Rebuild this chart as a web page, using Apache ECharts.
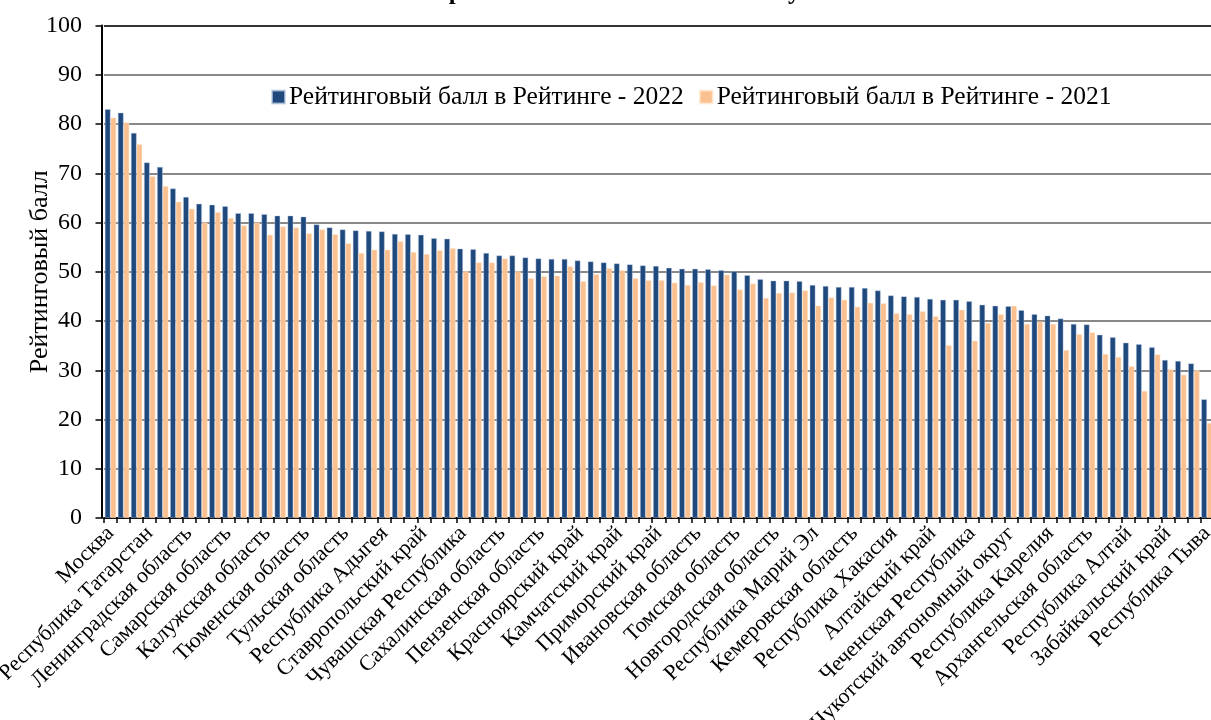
<!DOCTYPE html>
<html>
<head>
<meta charset="utf-8">
<script src="https://cdn.jsdelivr.net/npm/echarts@6/dist/echarts.min.js"></script>
<style>
html,body{margin:0;padding:0;background:#fff;}
#chart{width:1211px;height:720px;}
</style>
</head>
<body>
<div id="chart"></div>
<script>
const categories = [
"Москва","Санкт-Петербург","Московская область","Республика Татарстан","Нижегородская область",
"Белгородская область","Ленинградская область","Новосибирская область","Свердловская область","Самарская область",
"Республика Башкортостан","Липецкая область","Калужская область","Ханты-Мансийский автономный округ — Югра","Краснодарский край",
"Тюменская область","Пермский край","Воронежская область","Тульская область","Ямало-Ненецкий автономный округ",
"Ярославская область","Республика Адыгея","Челябинская область","Омская область","Ставропольский край",
"Ульяновская область","Рязанская область","Чувашская Республика","Калининградская область","Мурманская область",
"Сахалинская область","Республика Саха (Якутия)","Курская область","Пензенская область","Иркутская область",
"Удмуртская Республика","Красноярский край","Оренбургская область","Владимирская область","Камчатский край",
"Ростовская область","Тамбовская область","Приморский край","Хабаровский край","Орловская область",
"Ивановская область","Вологодская область","Астраханская область","Томская область","Кировская область",
"Смоленская область","Новгородская область","Брянская область","Республика Мордовия","Республика Марий Эл",
"Волгоградская область","Саратовская область","Кемеровская область","Костромская область","Тверская область",
"Республика Хакасия","Курганская область","Амурская область","Алтайский край","Республика Коми",
"Магаданская область","Чеченская Республика","Псковская область","Республика Бурятия","Чукотский автономный округ",
"Кабардино-Балкарская Республика","Ненецкий автономный округ","Республика Карелия","Республика Калмыкия","Еврейская автономная область",
"Архангельская область","Республика Дагестан","Карачаево-Черкесская Республика","Республика Алтай","Республика Северная Осетия — Алания",
"Республика Ингушетия","Забайкальский край","Севастополь","Республика Крым","Республика Тыва"
];
const values2022 = [
83.0,82.3,78.2,72.2,71.3,66.9,65.2,63.8,63.6,63.3,
61.9,61.9,61.7,61.4,61.4,61.2,59.6,59.0,58.6,58.4,
58.3,58.2,57.7,57.6,57.5,56.8,56.7,54.7,54.6,53.8,
53.3,53.3,52.9,52.7,52.6,52.6,52.3,52.1,51.9,51.7,
51.5,51.3,51.2,50.8,50.6,50.6,50.5,50.3,50.1,49.3,
48.5,48.2,48.2,48.1,47.3,47.1,46.9,46.9,46.7,46.2,
45.2,45.0,44.9,44.5,44.3,44.3,44.0,43.3,43.1,43.0,
42.2,41.4,41.1,40.5,39.4,39.3,37.2,36.7,35.6,35.3,
34.7,32.1,31.9,31.4,24.1
];
const values2021 = [
81.3,80.3,75.9,69.4,67.4,64.2,62.8,60.0,62.1,60.9,
59.4,60.0,57.5,59.2,59.0,57.8,58.6,57.6,55.8,53.8,
54.5,54.5,56.2,54.0,53.6,54.4,54.8,50.1,51.9,51.9,
52.7,50.1,48.7,49.1,49.2,51.1,48.1,49.5,50.7,50.3,
48.7,48.3,48.3,47.8,47.3,47.9,47.2,49.4,46.4,47.6,
44.7,45.7,45.8,46.2,43.1,44.8,44.3,42.9,43.7,43.6,
41.6,41.4,42.0,41.0,35.1,42.3,36.0,39.6,41.4,43.1,
39.4,39.9,39.4,34.1,37.3,37.7,33.3,32.7,30.8,25.8,
33.2,30.2,29.1,30.0,19.3
];
const seriesNames = ["Рейтинговый балл в Рейтинге - 2022","Рейтинговый балл в Рейтинге - 2021"];
const yAxisName = "Рейтинговый балл";
const titleText = "Баллы регионов в Рейтинге 2022 по сумме";

const FONT = "'Liberation Serif','Times New Roman',serif";
const chart = echarts.init(document.getElementById('chart'), null, {renderer:'canvas'});
chart.setOption({
  animation:false,
  backgroundColor:'#fff',
  title:{
    text:titleText, left:'center', top:-20, padding:[0,0,0,18],
    textStyle:{fontFamily:FONT, fontWeight:'bold', fontSize:25, color:'#000'}
  },
  legend:{
    left:271, top:84, padding:0, itemWidth:13, itemHeight:13, itemGap:15,
    icon:'rect',
    textStyle:{fontFamily:FONT, fontSize:25.5, color:'#000', padding:[0,0,0,-1]},
    data:seriesNames
  },
  grid:{left:104, right:-2.5, top:25.5, bottom:202, containLabel:false, outerBoundsMode:'none'},
  xAxis:{
    type:'category', data:categories, boundaryGap:true,
    axisLine:{lineStyle:{color:'#000', width:2}},
    axisTick:{show:true, interval:0, length:5, lineStyle:{color:'#000', width:1.5}},
    axisLabel:{interval:2, rotate:45, fontFamily:FONT, fontSize:22, color:'#000', margin:12},
    splitLine:{show:false}
  },
  yAxis:{
    type:'value', min:0, max:100, interval:10, offset:2.5,
    name:yAxisName, nameLocation:'middle', nameGap:48, nameRotate:90, nameMoveOverlap:false,
    nameTextStyle:{fontFamily:FONT, fontSize:26, color:'#000'},
    axisLine:{show:true, lineStyle:{color:'#000', width:2}},
    axisTick:{show:true, inside:false, length:6, lineStyle:{color:'#000', width:1.5}},
    axisLabel:{fontFamily:FONT, fontSize:24, color:'#000', margin:19.5},
    splitLine:{show:true, lineStyle:{color:['#888','#888','#888','#888','#888','#888','#888','#888','#888','#888','#333'], width:2}}
  },
  series:[
    {name:seriesNames[0], type:'bar', data:values2022, barWidth:'43.5%', barGap:'0%',
     itemStyle:{color:'#1F497D', borderColor:'rgba(190,205,230,0.7)', borderWidth:0.6}},
    {name:seriesNames[1], type:'bar', data:values2021, barWidth:'43.5%', barGap:'0%',
     itemStyle:{color:'#FAC090', borderColor:'rgba(255,235,215,0.7)', borderWidth:0.6}}
  ]
});
</script>
</body>
</html>
